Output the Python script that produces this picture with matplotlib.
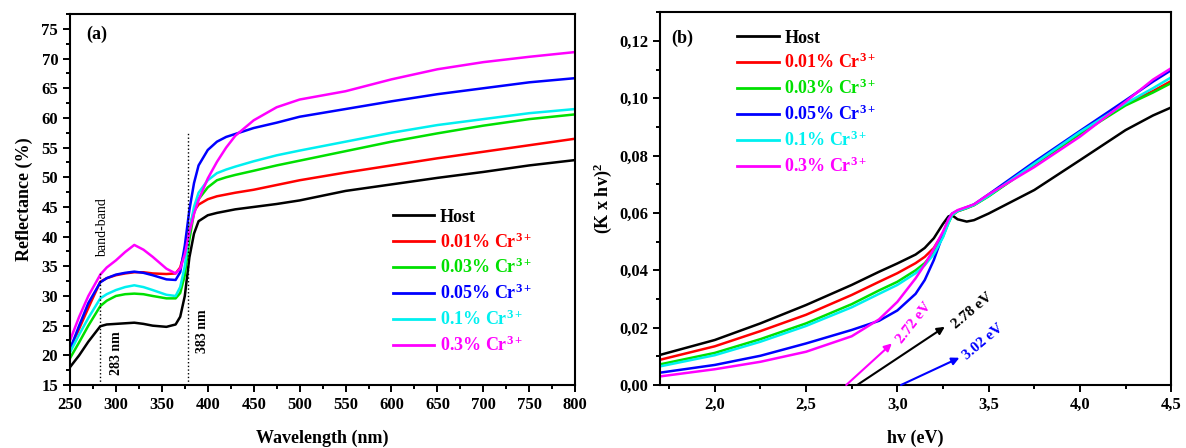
import numpy as np
import matplotlib
matplotlib.use("Agg")
import matplotlib.pyplot as plt
from matplotlib.ticker import MultipleLocator

plt.rcParams['font.family'] = ['Liberation Serif', 'DejaVu Serif']
plt.rcParams['font.weight'] = 'bold'
plt.rcParams['mathtext.fontset'] = 'custom'
plt.rcParams['mathtext.rm'] = 'Liberation Serif:bold'
plt.rcParams['mathtext.it'] = 'Liberation Serif:bold'
plt.rcParams['mathtext.bf'] = 'Liberation Serif:bold'

labels = ['Host', '0.01% Cr$^{3+}$', '0.03% Cr$^{3+}$', '0.05% Cr$^{3+}$',
          '0.1% Cr$^{3+}$', '0.3% Cr$^{3+}$']
colors = ['#000000', '#ff0000', '#00e000', '#0000ff', '#00f0f0', '#ff00ff']

# panel (a): reflectance
wl = [250, 260, 270, 283, 290, 300, 310, 320, 330, 340, 355, 365, 370, 375, 380, 385, 390,
      400, 410, 420, 430, 450, 475, 500, 550, 600, 650, 700, 750, 800]
r_host = [18.0, 20.0, 22.3, 24.9, 25.2, 25.3, 25.4, 25.5, 25.3, 25.0, 24.8, 25.2, 26.5, 30.0, 36.5, 40.5, 42.6,
          43.6, 44.0, 44.3, 44.6, 45.0, 45.5, 46.1, 47.7, 48.8, 49.9, 50.9, 52.0, 52.9]
r_001 = [21.0, 24.5, 28.0, 32.4, 33.0, 33.5, 33.8, 34.0, 34.0, 33.8, 33.7, 33.8, 34.8, 37.5, 41.5, 44.3, 45.4,
         46.3, 46.8, 47.1, 47.4, 47.9, 48.7, 49.5, 50.8, 52.0, 53.2, 54.3, 55.4, 56.5]
r_003 = [19.5, 22.2, 25.0, 28.3, 29.2, 30.0, 30.3, 30.4, 30.3, 30.0, 29.6, 29.6, 30.5, 33.5, 39.5, 44.0, 46.3,
         48.3, 49.5, 50.0, 50.4, 51.1, 52.0, 52.8, 54.4, 56.0, 57.4, 58.7, 59.8, 60.6]
r_005 = [21.0, 25.0, 28.8, 32.3, 33.0, 33.6, 33.9, 34.1, 33.9, 33.5, 32.8, 32.7, 34.0, 38.5, 44.5, 49.0, 52.0,
         54.6, 56.0, 56.8, 57.3, 58.3, 59.2, 60.2, 61.5, 62.8, 64.0, 65.0, 66.0, 66.7]
r_01 = [20.5, 23.5, 26.3, 29.6, 30.3, 31.0, 31.5, 31.8, 31.5, 31.0, 30.2, 30.0, 31.5, 35.0, 41.0, 45.0, 47.4,
        49.5, 50.7, 51.3, 51.8, 52.7, 53.7, 54.5, 56.0, 57.5, 58.8, 59.8, 60.8, 61.5]
r_03 = [22.5, 26.5, 30.0, 33.6, 34.8, 36.0, 37.4, 38.6, 37.8, 36.6, 34.6, 33.8, 34.6, 37.0, 40.8, 43.8, 46.2,
        49.8, 52.6, 55.0, 57.0, 59.6, 61.8, 63.1, 64.5, 66.5, 68.2, 69.4, 70.3, 71.1]

# panel (b): (K x hv)^2
ev = [1.7, 2.0, 2.25, 2.5, 2.75, 2.9, 3.0, 3.1, 3.15, 3.2, 3.25, 3.28, 3.3, 3.33,
      3.38, 3.42, 3.5, 3.75, 4.0, 4.25, 4.4, 4.5]
k_host = [0.0105, 0.0157, 0.0215, 0.0279, 0.0349, 0.0395, 0.0424, 0.0455, 0.0478, 0.0512, 0.0562,
          0.0588, 0.0592, 0.0578, 0.0570, 0.0575, 0.0598, 0.0680, 0.0784, 0.0889, 0.0940, 0.0968]
k_001 = [0.0088, 0.0135, 0.0188, 0.0245, 0.0314, 0.0360, 0.0390, 0.0425, 0.0447, 0.0478, 0.0530,
         0.0570, 0.0592, 0.0606, 0.0617, 0.0628, 0.0660, 0.0770, 0.0878, 0.0980, 0.1025, 0.1060]
k_003 = [0.0072, 0.0112, 0.0160, 0.0215, 0.0282, 0.0330, 0.0360, 0.0400, 0.0425, 0.0462, 0.0518,
         0.0565, 0.0592, 0.0606, 0.0617, 0.0627, 0.0658, 0.0768, 0.0875, 0.0975, 0.1020, 0.1053]
k_005 = [0.0043, 0.0070, 0.0102, 0.0145, 0.0192, 0.0224, 0.0260, 0.0318, 0.0366, 0.0436, 0.0525,
         0.0580, 0.0598, 0.0608, 0.0620, 0.0630, 0.0665, 0.0778, 0.0886, 0.0993, 0.1058, 0.1098]
k_01 = [0.0065, 0.0104, 0.0151, 0.0206, 0.0271, 0.0318, 0.0349, 0.0390, 0.0418, 0.0456, 0.0515,
        0.0565, 0.0593, 0.0607, 0.0618, 0.0628, 0.0660, 0.0772, 0.0882, 0.0982, 0.1035, 0.1073]
k_03 = [0.0030, 0.0055, 0.0081, 0.0116, 0.0170, 0.0229, 0.0290, 0.0372, 0.0420, 0.0475, 0.0535,
        0.0578, 0.0598, 0.0610, 0.0621, 0.0630, 0.0665, 0.0760, 0.0866, 0.0988, 0.1065, 0.1105]

# band gap extrapolations
gaps = [2.72, 2.78, 3.02]
gap_tips = [(2.97, 0.0145), (3.26, 0.0203), (3.34, 0.0095)]
gap_colors = ['#ff00ff', '#000000', '#0000ff']
gap_text_pos = [(3.09, 0.0218), (3.41, 0.0260), (3.47, 0.0150)]
gap_rot = [52, 40, 40]

refl = [r_host, r_001, r_003, r_005, r_01, r_03]
kub = [k_host, k_001, k_003, k_005, k_01, k_03]

fig = plt.figure(figsize=(11.86, 4.48), dpi=100)
ax1 = fig.add_axes([0.059, 0.1406, 0.426, 0.828])
ax2 = fig.add_axes([0.5565, 0.1406, 0.431, 0.832])

for ax in (ax1, ax2):
    for s in ax.spines.values():
        s.set_linewidth(1.5)
    ax.tick_params(which='both', direction='out', top=False, right=False, labelsize=12, width=1.4)
    ax.tick_params(which='major', length=5)
    ax.tick_params(which='minor', length=3)

leg_kw = dict(frameon=False, fontsize=13, handlelength=2.3, handletextpad=0.3,
              labelspacing=0.36, labelcolor='linecolor', borderaxespad=0)

# (a)
for y, c, lab in zip(refl, colors, labels):
    ax1.plot(wl, y, color=c, lw=1.8, label=lab)
ax1.set_xlim(250, 800)
ax1.set_ylim(15, 77.5)
ax1.xaxis.set_major_locator(MultipleLocator(50))
ax1.xaxis.set_minor_locator(MultipleLocator(25))
ax1.yaxis.set_major_locator(MultipleLocator(5))
ax1.yaxis.set_minor_locator(MultipleLocator(2.5))
ax1.set_xlabel('Wavelength (nm)', fontsize=13, fontweight='bold', labelpad=12)
ax1.set_ylabel('Reflectance (%)', fontsize=13, fontweight='bold', labelpad=6)
ax1.plot([283, 283], [15, 34], ls=':', color='k', lw=1)
ax1.plot([379, 379], [15, 57.5], ls=':', color='k', lw=1)
ax1.text(286, 41.5, 'band-band', rotation=90, fontsize=10, ha='center', va='center', fontweight='normal')
ax1.text(301, 20.3, '283 nm', rotation=90, fontsize=10, ha='center', va='center')
ax1.text(394, 24.0, '383 nm', rotation=90, fontsize=10, ha='center', va='center')
ax1.text(279, 74.0, '(a)', fontsize=13, ha='center', va='center')
leg1 = ax1.legend(loc='upper left', bbox_to_anchor=(0.625, 0.495), **leg_kw)
for l in leg1.get_lines():
    l.set_linewidth(2)

# (b)
for y, c, lab in zip(kub, colors, labels):
    ax2.plot(ev, y, color=c, lw=1.8, label=lab)
ax2.set_xlim(1.7, 4.5)
ax2.set_ylim(0, 0.130)
ax2.xaxis.set_major_locator(MultipleLocator(0.5))
ax2.xaxis.set_minor_locator(MultipleLocator(0.25))
ax2.yaxis.set_major_locator(MultipleLocator(0.02))
ax2.yaxis.set_minor_locator(MultipleLocator(0.01))
ax2.xaxis.set_major_formatter(lambda v, p: f'{v:.1f}'.replace('.', ','))
ax2.yaxis.set_major_formatter(lambda v, p: f'{v:.2f}'.replace('.', ','))
ax2.set_xlabel('hv (eV)', fontsize=13, fontweight='bold', labelpad=12)
ax2.set_ylabel('(K x hv)$^2$', fontsize=13, fontweight='bold')
ax2.text(1.82, 0.121, '(b)', fontsize=13, ha='center', va='center')
for g, tip, c, tp, rot in zip(gaps, gap_tips, gap_colors, gap_text_pos, gap_rot):
    ax2.annotate('', xy=tip, xytext=(g, 0),
                 arrowprops=dict(arrowstyle='-|>', color=c, lw=1.5, mutation_scale=11,
                                 shrinkA=0, shrinkB=0))
    ax2.text(tp[0], tp[1], f'{g:.2f} eV', color=c, rotation=rot, fontsize=11,
             ha='center', va='center')
leg2 = ax2.legend(loc='upper left', bbox_to_anchor=(0.137, 0.973), **leg_kw)
for l in leg2.get_lines():
    l.set_linewidth(2)

fig.savefig('out.png', dpi=100)
